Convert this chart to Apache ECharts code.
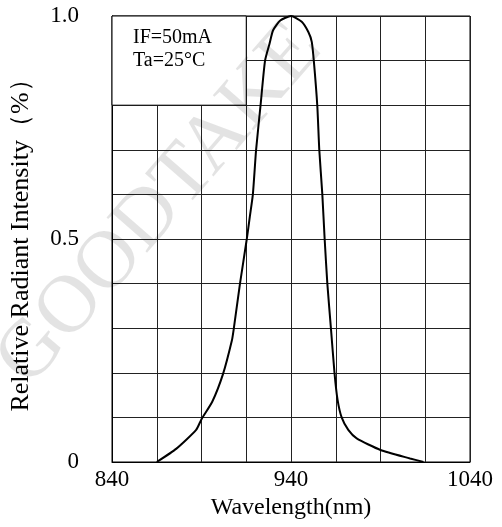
<!DOCTYPE html>
<html>
<head>
<meta charset="utf-8">
<script src="https://cdn.jsdelivr.net/npm/echarts@6/dist/echarts.min.js"></script>
<style>
  html, body { margin: 0; padding: 0; background: #fff; }
  #main { width: 502px; height: 527px; }
</style>
</head>
<body>
<div id="main"></div>
<script>
// 光谱曲线数据
const wavelength = [865, 876, 887, 890, 896, 902, 907, 908, 911.5, 915.3, 917, 918.7, 920.5, 923, 925.5, 928, 930, 934, 940,
  946, 949.7, 951.6, 952.8, 954.7, 955.8, 957.5, 958.8, 960.3, 962.3, 964.3, 966, 968.3, 972, 976.7, 990, 1006.5, 1014]
const intensity = [0, 0.03, 0.072, 0.096, 0.135, 0.197, 0.273, 0.298, 0.4, 0.5, 0.55, 0.6, 0.7, 0.8, 0.9, 0.938, 0.968, 0.99, 1.0,
  0.987, 0.964, 0.942, 0.897, 0.798, 0.7, 0.6, 0.5, 0.4, 0.3, 0.2, 0.14, 0.1, 0.072, 0.053, 0.027, 0.008, 0]

const xTickLabels = { 840: "840", 940: "940", 1040: "1040" }
const yTickLabels = { 0: "0", 0.5: "0.5", 1: "1.0" }
const conditions = ["IF=50mA", "Ta=25°C"]
const watermark = "GOODTAKE"

const font = "'Liberation Serif', 'Times New Roman', serif"

const myChart = echarts.init(document.getElementById("main"))

const option = {
  backgroundColor: "#fff",
  animation: false,
  textStyle: { fontFamily: font },
  grid: {
    left: 112,
    right: 32,
    top: 16,
    bottom: 65,
    show: true,
    borderColor: "#000",
    borderWidth: 1
  },
  xAxis: {
    type: "value",
    min: 840,
    max: 1040,
    interval: 25,
    name: "Wavelength(nm)",
    nameLocation: "middle",
    nameGap: 34,
    nameTextStyle: { fontSize: 24, color: "#000", fontFamily: font },
    axisLine: { lineStyle: { color: "#000" } },
    axisTick: { show: false },
    axisLabel: {
      fontSize: 23,
      color: "#000",
      margin: 6,
      fontFamily: font,
      formatter: (v) => xTickLabels[v] || ""
    },
    splitLine: { show: true, lineStyle: { color: "#222", width: 1 } }
  },
  yAxis: {
    type: "value",
    min: 0,
    max: 1,
    interval: 0.1,
    name: "Relative Radiant Intensity（%）",
    nameLocation: "middle",
    nameGap: 78,
    nameTextStyle: { fontSize: 26, color: "#000", fontFamily: font },
    axisLine: { show: true, lineStyle: { color: "#000" } },
    axisTick: { show: false },
    axisLabel: {
      fontSize: 23,
      color: "#000",
      margin: 33,
      fontFamily: font,
      formatter: (v) => {
        const k = Math.round(v * 10) / 10
        return yTickLabels[k] || ""
      }
    },
    splitLine: { show: true, lineStyle: { color: "#222", width: 1 } }
  },
  graphic: [
    {
      type: "text",
      left: 133,
      top: 26,
      z: 10,
      style: {
        text: conditions.join("\n"),
        font: "20px " + font,
        lineHeight: 23,
        fill: "#000"
      }
    },
    {
      type: "text",
      x: 160,
      y: 205,
      rotation: (49 * Math.PI) / 180,
      z: 20,
      silent: true,
      style: {
        text: watermark,
        font: "82px " + font,
        fill: "rgba(0,0,0,0.11)",
        align: "center",
        verticalAlign: "middle"
      }
    }
  ],
  series: [
    {
      type: "line",
      data: wavelength.map((w, i) => [w, intensity[i]]),
      showSymbol: false,
      smooth: 0.2,
      lineStyle: { color: "#000", width: 2 },
      markArea: {
        silent: true,
        itemStyle: { color: "#fff", borderColor: "#000", borderWidth: 1 },
        data: [[{ coord: [840, 0.8] }, { coord: [915, 1.0] }]]
      }
    }
  ]
}
myChart.setOption(option, true)
</script>
</body>
</html>
